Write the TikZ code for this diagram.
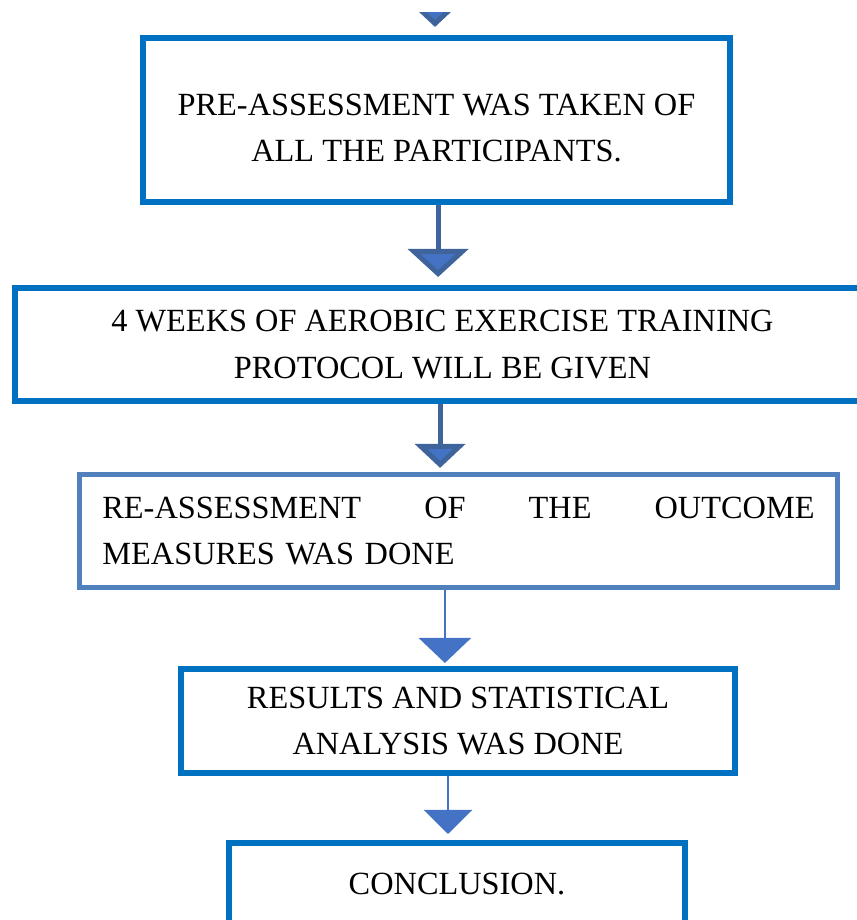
\documentclass[tikz,border=0pt]{standalone}
\usepackage{fontspec}
\setmainfont{Liberation Serif}
\usetikzlibrary{arrows.meta}

\definecolor{boxblue}{RGB}{0,112,192}
\definecolor{boxsteel}{RGB}{80,129,189}
\definecolor{stemblue}{RGB}{62,100,155}
\definecolor{headblue}{RGB}{68,114,196}

\tikzstyle{stagebox} = [rectangle, draw = boxblue, line width = 0.15cm, align = center, font = \fontsize{23}{33}\selectfont]
\tikzstyle{thickflow} = [draw = stemblue, line width = 0.125cm]
\tikzstyle{thinflow} = [draw = headblue, line width = 0.065cm]

\begin{document}
\begin{tikzpicture}[x = 0.025cm, y = -0.025cm]
			\useasboundingbox (0,0) rectangle (856,920);
			\node[stagebox, minimum width = 14.675cm, minimum height = 4.1cm] (pre) at (436.5,120) {\rule{0pt}{0.95cm}PRE-ASSESSMENT WAS TAKEN OF\\ALL THE PARTICIPANTS.};
			\node[stagebox, minimum width = 21.375cm, minimum height = 2.825cm] (train) at (442.5,344.5) {4 WEEKS OF AEROBIC EXERCISE TRAINING\\PROTOCOL WILL BE GIVEN};
			\node[stagebox, draw = boxsteel, line width = 0.11cm, minimum width = 18.95cm, minimum height = 2.825cm, text width = 17.8cm, align = left] (reassess) at (458.5,531) {\hbox to \hsize{RE-ASSESSMENT\hfill OF\hfill THE\hfill OUTCOME}\\MEASURES WAS DONE};
			\node[stagebox, minimum width = 13.85cm, minimum height = 2.6cm] (results) at (458,721) {RESULTS AND STATISTICAL\\ANALYSIS WAS DONE};
			\node[stagebox, minimum width = 11.4cm, minimum height = 2.05cm] (concl) at (457,884) {CONCLUSION.};
			\coordinate (entry) at (435,-40);
			% only the lower half of the incoming head shows
			\begin{scope}
				\clip (0,13) rectangle (856,40);
				\draw[thickflow, -{Triangle[length = 0.6cm, width = 1.25cm, fill = headblue]}, shorten >= 0.2cm] (entry) -- (entry |- pre.north);
			\end{scope}
			\draw[thickflow, -{Triangle[length = 0.7cm, width = 1.5cm, fill = headblue]}, shorten >= 0.2cm] ([xshift = 0.04cm]pre.south) -- ([xshift = 0.04cm]pre.south |- train.north);
			\draw[thickflow, -{Triangle[length = 0.6cm, width = 1.25cm, fill = headblue]}, shorten >= 0.11cm] ([xshift = -0.06cm]train.south) -- ([xshift = -0.06cm]train.south |- reassess.north);
			\draw[thinflow, -{Triangle[length = 0.625cm, width = 1.3cm, fill = headblue]}, shorten >= 0.075cm] ([xshift = -0.34cm]reassess.south) -- ([xshift = -0.34cm]reassess.south |- results.north);
			\draw[thinflow, -{Triangle[length = 0.6cm, width = 1.2cm, fill = headblue]}, shorten >= 0.15cm] ([xshift = -0.25cm]results.south) -- ([xshift = -0.25cm]results.south |- concl.north);
		\end{tikzpicture}
\end{document}
